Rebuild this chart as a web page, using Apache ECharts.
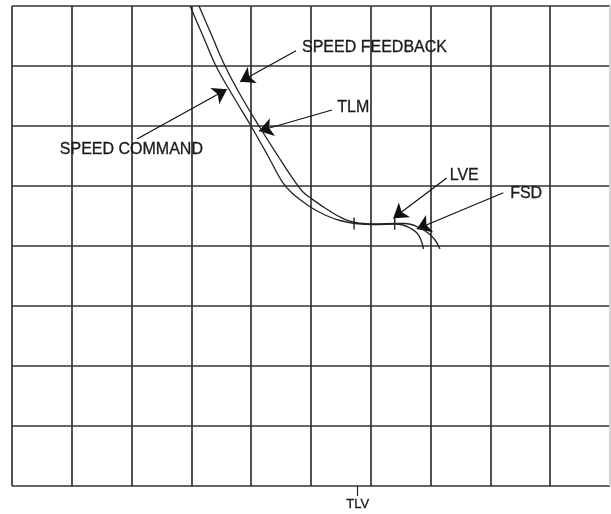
<!DOCTYPE html>
<html><head><meta charset="utf-8">
<script src="https://cdn.jsdelivr.net/npm/echarts@6/dist/echarts.min.js"></script>
<style>html,body{margin:0;padding:0;background:#fff}#c{width:611px;height:514px}</style>
</head><body><div id="c"></div>
<script>
// Curves (x in grid divisions, y in grid divisions)
const speedCommand = [
  [2.977,8.0],[3.194,7.5],[3.411,7.0],[3.696,6.5],[3.997,6.0],[4.281,5.5],
  [4.525,5.06],[4.682,4.883],[4.849,4.75],[5.017,4.633],[5.234,4.517],
  [5.485,4.425],[5.736,4.375],[6.07,4.358],[6.405,4.367],[6.538,4.35],
  [6.656,4.3],[6.773,4.217],[6.839,4.1],[6.881,3.95]
];
const speedFeedback = [
  [3.127,8.0],[3.344,7.5],[3.562,7.0],[3.829,6.5],[4.13,6.0],[4.448,5.5],
  [4.705,5.11],[4.866,4.9],[5.017,4.783],[5.234,4.633],[5.485,4.483],
  [5.736,4.392],[6.07,4.367],[6.405,4.375],[6.572,4.375],[6.789,4.317],
  [6.957,4.217],[7.074,4.1],[7.157,3.95]
];
const curveTicks = [[5.72,4.375],[6.40,4.37]];
const tlvValue = 5.78;
const tlvText = 'TLV';
const labelTexts = ['SPEED FEEDBACK','TLM','SPEED COMMAND','LVE','FSD'];
const labelAnchors = [[4.85,7.3],[5.44,6.3],[0.80,5.6],[7.32,5.18],[8.33,4.88]];
const arrowFrom = [[4.749,7.255],[5.351,6.267],[2.09,5.783],[7.269,5.133],[8.216,4.888]];
const arrowTo   = [[3.813,6.738],[4.13,5.917],[3.595,6.612],[6.376,4.462],[6.768,4.283]];

const chart = echarts.init(document.getElementById('c'), null, {renderer:'canvas'});
const gridColors = [];
for (let i = 0; i < 11; i++) gridColors.push(i === 10 ? '#cfcfcf' : '#333333');
const font = '"Liberation Sans", Arial, Helvetica, sans-serif';

chart.setOption({
  backgroundColor: '#ffffff',
  animation: false,
  grid: {left: 12, right: 1, top: 6, bottom: 28},
  xAxis: [{
    type: 'value', min: 0, max: 10, interval: 1, position: 'bottom',
    axisLine: {show: false}, axisTick: {show: false}, axisLabel: {show: false},
    splitLine: {show: true, lineStyle: {color: gridColors, width: 1.7}}
  }, {
    type: 'value', min: 0, max: 10, position: 'bottom',
    axisLine: {show: false},
    axisTick: {show: true, customValues: [tlvValue], length: 10, lineStyle: {color: '#222', width: 1.2}},
    axisLabel: {show: true, customValues: [tlvValue], formatter: () => tlvText, margin: 12,
      color: '#1a1a1a', fontSize: 13, fontFamily: font, textBorderColor: '#1a1a1a', textBorderWidth: 0.3},
    splitLine: {show: false}
  }],
  yAxis: {
    type: 'value', min: 0, max: 8, interval: 1,
    axisLine: {show: false}, axisTick: {show: false}, axisLabel: {show: false},
    splitLine: {show: true, lineStyle: {color: '#333333', width: 1.7}}
  },
  series: [
    {type: 'line', data: speedCommand, smooth: 0.4, showSymbol: false, clip: true,
     lineStyle: {color: '#222', width: 1.3}},
    {type: 'line', data: speedFeedback, smooth: 0.4, showSymbol: false, clip: true,
     lineStyle: {color: '#222', width: 1.3}},
    {type: 'scatter', data: curveTicks, symbol: 'rect', symbolSize: [1.4, 12],
     itemStyle: {color: '#222', opacity: 1}},
    {type: 'lines', coordinateSystem: 'cartesian2d', polyline: false,
     symbol: ['none', 'arrow'], symbolSize: [10, 14],
     lineStyle: {color: '#111', width: 1.2, opacity: 1},
     data: arrowFrom.map((f, i) => ({coords: [f, arrowTo[i]]}))},
    {type: 'scatter', symbolSize: 0, silent: true,
     itemStyle: {opacity: 1},
     data: labelAnchors.map((a, i) => ({value: a, name: labelTexts[i]})),
     label: {show: true, position: 'right', distance: 0, formatter: p => p.name, opacity: 1,
       color: '#1a1a1a', fontSize: 16, fontFamily: font, textBorderColor: '#1a1a1a', textBorderWidth: 0.3}}
  ]
});
</script></body></html>
